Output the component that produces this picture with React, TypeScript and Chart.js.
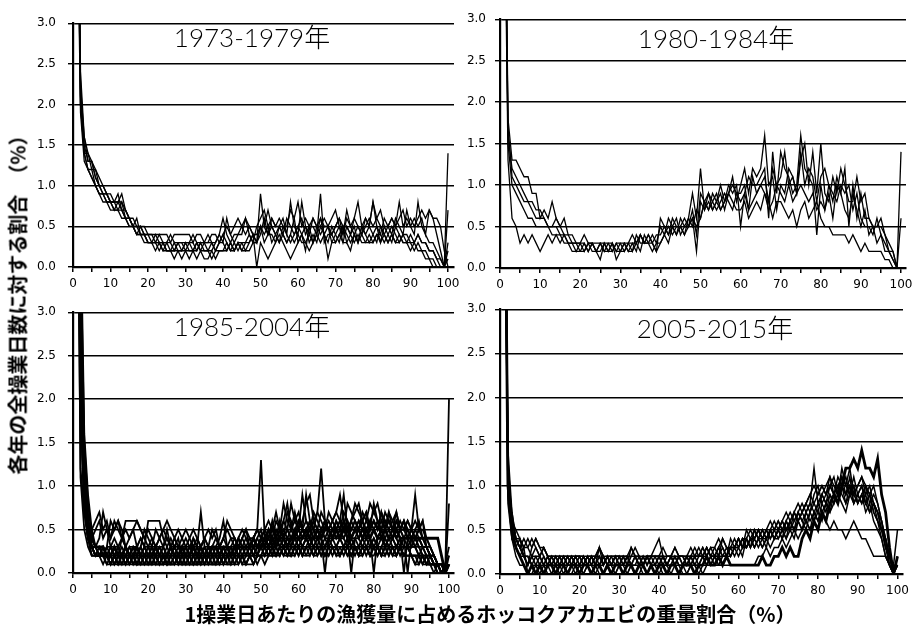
import React, { useEffect, useRef } from "react";
import { Chart, registerables } from "chart.js";

Chart.register(...registerables);

// Share of each year's fishing days falling in every 1 % bin of the
// northern-shrimp weight fraction of that day's catch (bins 0..100).
// Values are stored in units of 0.1 %.

// 1973-1979
const yr1973 = [300,60,22,16,13,13,11,10,9,9, 8,8,9,7,6,6,5,5,4,4, 4,4,3,4,3,3,3,2,3,3, 2,3,3,2,3,3,4,3,3,4, 6,4,3,4,4,5,4,5,4,3, 9,5,7,5,4,5,6,4,8,5, 4,8,5,4,6,5,4,5,5,6, 7,5,4,6,5,4,5,4,6,5, 8,5,4,6,5,4,6,5,4,7, 5,4,8,5,4,3,3,2,1,0, 14];
const yr1974 = [300,55,20,14,12,11,10,9,9,8, 8,7,8,8,7,6,5,4,5,4, 3,3,3,2,3,2,2,3,2,2, 3,2,2,2,3,2,2,3,2,3, 3,2,3,2,3,3,2,3,4,3, 5,3,4,4,3,5,4,3,4,6, 3,4,5,3,4,3,5,4,3,5, 4,3,5,4,3,4,3,5,4,3, 4,3,5,4,3,4,3,4,3,3, 3,2,3,2,2,1,1,0,0,0, 7];
const yr1975 = [300,65,24,16,14,13,12,10,10,9, 9,8,8,9,7,6,6,5,5,5, 4,4,4,4,4,4,3,4,4,4, 4,4,3,4,4,3,3,4,4,3, 4,5,4,5,6,5,6,5,4,4, 5,5,4,6,5,5,4,6,5,4, 5,6,4,5,5,4,6,5,5,4, 5,6,5,5,4,6,5,4,5,6, 5,6,5,4,5,6,5,8,5,6, 5,6,5,6,4,7,6,4,2,0, 2];
const yr1976 = [300,50,19,13,12,11,10,9,8,8, 7,7,7,6,6,5,5,4,4,3, 3,3,2,3,2,2,2,1,2,1, 2,1,2,1,2,1,1,2,1,2, 2,2,3,2,3,2,3,3,4,0, 3,2,1,2,3,4,3,2,1,2, 3,4,3,2,3,4,3,4,1,3, 3,4,3,3,2,4,3,4,3,3, 3,4,4,3,4,3,5,4,3,3, 2,3,2,2,1,1,0,0,0,0, 3];
const yr1977 = [300,58,23,14,14,12,12,11,10,9, 8,8,7,8,6,5,5,6,4,4, 3,3,3,3,2,3,2,2,3,3, 3,3,2,3,3,3,2,2,3,4, 3,6,4,3,4,4,6,4,3,5, 6,7,5,6,5,6,5,5,7,6, 8,5,6,5,6,5,5,6,5,4, 5,6,4,7,5,6,8,5,6,5, 8,6,7,5,5,6,5,6,7,5, 6,5,6,7,6,7,6,6,5,2, 0];
const yr1978 = [300,62,21,15,13,13,11,10,9,9, 8,8,8,7,7,6,5,5,5,4, 4,3,4,3,3,3,4,3,3,2, 3,3,4,3,2,3,3,3,2,3, 4,3,2,3,2,3,3,4,3,3, 5,4,5,3,4,3,4,3,4,3, 4,3,3,4,3,4,9,3,4,4, 3,4,5,3,4,3,4,3,3,4, 3,4,3,4,3,4,3,3,4,3, 4,3,4,3,3,2,2,1,0,0, 1];
const yr1979 = [300,57,20,14,12,12,10,9,9,8, 8,7,7,7,6,6,5,4,4,4, 3,3,3,3,3,2,2,2,2,2, 2,2,2,3,2,2,2,1,2,2, 2,3,2,2,3,2,2,2,3,3, 4,6,4,5,4,3,5,4,3,4, 5,4,2,5,3,5,6,4,5,3, 4,5,3,5,4,5,3,5,4,5, 4,5,3,5,4,5,4,3,4,4, 3,3,4,3,3,2,2,1,1,0, 0];

// 1980-1984
const yr1980 = [300,60,18,13,13,12,11,11,9,9, 6,7,6,8,6,5,6,4,4,3, 3,4,3,3,2,3,3,3,2,3, 3,2,3,4,3,4,3,3,4,3, 5,4,6,5,4,6,5,6,9,6, 12,7,8,7,8,9,7,9,11,8, 10,12,9,12,11,12,16,10,11,7, 10,9,12,11,9,13,15,10,14,9, 15,9,8,11,9,12,10,8,8,11, 8,9,6,5,5,6,4,3,2,0, 14];
const yr1981 = [300,58,16,12,11,10,9,8,8,7, 7,6,5,5,6,5,4,4,3,3, 3,3,2,3,3,3,2,3,3,2, 3,3,3,2,4,3,3,4,3,4, 4,5,4,6,5,5,6,5,7,4, 9,8,7,9,8,7,8,10,9,10, 5,9,11,10,10,11,12,6,14,9, 14,12,11,9,10,16,12,11,10,4, 10,7,10,9,8,10,9,10,7,9, 6,5,5,4,6,4,3,2,1,0, 6];
const yr1982 = [300,55,15,10,9,8,7,6,6,5, 5,5,5,4,4,4,3,3,3,2, 3,2,3,3,2,1,3,2,3,2, 2,3,2,3,2,4,3,3,2,3, 3,4,5,4,5,5,4,6,5,7, 6,8,9,8,7,8,9,8,7,9, 8,9,7,8,9,10,9,7,8,10, 9,8,10,8,9,10,9,8,9,7, 8,7,9,6,10,9,7,6,9,7, 5,7,4,5,3,4,2,2,1,0, 0];
const yr1983 = [300,52,13,6,5,3,4,3,4,3, 2,3,4,3,4,3,4,3,2,2, 2,3,2,3,2,3,2,2,3,1, 2,3,2,2,3,4,3,4,3,2, 3,4,3,5,4,5,4,5,6,5, 6,8,7,8,9,7,8,9,8,7, 7,8,6,7,8,7,9,8,6,8, 8,7,6,7,5,7,8,6,7,8, 6,5,5,4,4,4,4,3,4,3, 2,3,2,2,2,2,1,1,0,0, 0];
const yr1984 = [300,57,17,11,10,9,8,8,7,6, 6,6,5,5,5,4,4,3,3,3, 2,2,3,2,2,2,3,2,2,3, 2,2,3,3,3,2,4,3,3,2, 6,5,4,5,6,4,5,5,6,2, 8,7,9,7,8,10,8,9,10,9, 9,10,7,11,9,10,11,8,12,10, 11,14,10,11,9,14,10,12,11,8, 11,12,10,8,11,9,12,5,10,6, 9,6,6,5,5,5,4,2,2,0, 0];

// 1985-2004
const yr1985 = [300,75,32,11,5,3,2,2,2,2, 1,2,1,1,2,1,1,2,1,1, 1,2,1,1,1,2,1,1,2,1, 1,1,2,1,1,2,1,1,1,2, 1,2,1,2,2,1,2,2,1,2, 2,3,2,3,2,3,3,2,3,2, 3,2,3,3,2,3,3,2,3,3, 3,2,3,3,2,3,3,2,3,2, 3,3,2,3,2,3,2,3,2,2, 2,2,1,2,1,1,1,1,1,0, 0];
const yr1986 = [300,60,12,7,4,5,6,7,5,6, 4,5,6,4,6,6,6,6,5,4, 3,4,3,4,3,5,3,4,3,3, 4,3,3,2,3,4,3,3,4,3, 4,3,4,4,3,4,5,4,4,5, 13,4,5,4,6,5,6,8,5,6, 5,9,6,5,7,6,5,6,4,5, 6,5,7,6,5,6,5,6,7,5, 6,5,7,5,6,5,4,5,6,5, 4,5,4,3,3,2,2,1,0,0, 20];
const yr1987 = [300,65,20,8,5,3,3,4,7,5, 4,6,5,4,3,4,5,3,4,3, 6,6,6,6,4,3,4,3,4,2, 3,2,4,3,7,3,2,3,2,3, 3,2,3,2,4,3,2,3,3,4, 5,3,4,5,4,6,4,7,6,4, 6,5,9,6,5,7,12,6,5,6, 5,6,9,5,6,7,8,6,7,5, 8,6,5,6,5,6,7,5,6,4, 5,9,5,6,3,2,1,1,0,0, 8];
const yr1988 = [300,68,25,10,6,4,3,3,2,3, 6,5,6,5,3,2,3,2,3,5, 4,3,5,4,5,6,5,4,5,4, 3,4,5,4,3,4,5,4,5,3, 4,6,5,4,3,4,5,3,4,5, 4,5,6,5,7,5,8,6,5,7, 5,6,8,9,6,7,6,5,7,6, 7,6,5,8,7,6,5,7,6,8, 7,6,5,7,6,5,6,5,5,6, 5,4,5,4,3,2,2,1,0,1, 3];
const yr1989 = [300,62,18,9,5,4,5,6,4,5, 3,4,3,4,5,4,5,6,5,4, 5,4,3,4,5,4,3,4,3,4, 5,4,3,4,3,4,3,5,4,3, 4,5,4,3,4,5,4,3,4,5, 4,5,4,6,4,5,4,5,8,6, 7,5,6,5,6,5,7,6,5,6, 7,9,6,5,6,8,7,6,5,6, 7,8,6,5,7,6,5,6,5,6, 5,6,5,6,4,3,2,1,1,0, 2];
const yr1990 = [300,72,28,9,4,2,2,2,3,2, 2,1,2,2,1,2,2,1,2,2, 1,2,2,1,2,1,2,2,1,2, 2,1,2,2,1,2,2,3,2,2, 2,3,2,2,3,2,3,3,2,3, 4,3,3,4,3,4,3,4,5,4, 4,5,4,3,5,4,4,0,4,5, 4,5,4,5,3,4,5,4,5,4, 0,4,5,3,4,5,4,3,4,4, 3,4,3,2,2,1,1,0,0,0, 1];
const yr1991 = [300,66,22,8,4,3,2,3,2,3, 3,2,2,3,2,2,3,2,2,3, 2,3,2,2,3,2,2,3,2,2, 3,2,2,3,2,2,3,2,3,3, 2,3,3,2,3,3,3,2,3,3, 3,3,4,3,3,4,3,3,4,3, 4,3,4,4,3,4,4,3,4,4, 3,4,4,3,4,4,3,4,4,3, 4,3,4,4,3,4,3,4,3,3, 3,3,2,3,2,2,1,1,0,0, 0];
const yr1992 = [300,80,38,15,8,4,3,2,2,1, 1,1,2,1,1,1,2,1,1,1, 2,1,1,1,1,2,1,1,1,2, 1,1,1,2,1,1,1,2,1,1, 2,1,1,2,1,2,1,2,2,2, 2,2,3,2,2,3,2,3,2,3, 2,3,3,2,3,3,2,3,3,2, 3,3,2,3,3,2,3,3,2,3, 3,2,3,2,3,3,2,3,2,3, 2,2,2,1,2,1,1,1,0,0, 0];
const yr1993 = [300,64,19,7,4,3,3,2,3,2, 3,3,2,4,3,2,3,3,4,3, 2,3,3,2,3,4,3,2,3,2, 2,3,4,3,2,3,3,2,3,4, 6,3,3,4,3,3,4,3,4,3, 4,4,5,3,5,4,6,5,4,5, 6,5,4,6,5,4,5,6,5,4, 6,5,6,4,5,6,5,6,4,5, 6,5,7,6,5,4,6,5,4,5, 4,5,6,4,3,3,2,1,1,0, 0];
const yr1994 = [300,70,26,10,5,3,2,2,2,2, 2,2,1,2,2,2,1,2,2,2, 2,2,2,1,2,2,2,1,2,2, 1,2,2,2,1,2,2,2,1,2, 2,2,2,3,2,2,3,2,2,3, 3,3,3,2,4,3,3,4,3,3, 4,3,4,3,4,4,3,4,3,4, 4,4,3,4,0,4,4,3,4,4, 3,4,4,3,4,4,3,4,4,3, 4,3,3,2,2,2,1,1,0,0, 1];
const yr1995 = [300,74,31,12,6,3,2,2,1,2, 1,2,1,2,1,2,1,1,2,1, 1,1,2,1,2,1,1,2,1,1, 2,1,1,1,2,1,2,1,1,2, 1,2,2,1,2,2,1,2,2,1, 2,3,2,2,3,2,3,2,3,3, 3,2,3,3,2,3,3,2,3,3, 2,3,3,2,3,3,2,3,3,2, 3,3,2,3,3,2,3,3,2,2, 2,1,2,1,1,1,0,1,0,0, 0];
const yr1996 = [300,67,23,9,5,3,3,3,2,2, 2,3,2,2,2,3,2,2,3,2, 3,2,2,3,2,2,2,3,2,3, 2,2,3,2,2,3,2,2,2,3, 3,2,3,3,2,3,3,3,2,3, 3,4,3,4,4,3,4,4,3,5, 4,5,4,5,4,3,5,4,5,4, 5,4,6,5,4,5,4,5,4,6, 5,4,5,4,5,4,5,4,0,4, 4,3,4,3,3,2,2,1,1,0, 0];
const yr1997 = [300,76,29,11,5,3,2,2,2,2, 1,2,2,1,2,2,2,1,2,1, 2,2,1,2,2,1,2,2,2,1, 2,2,1,2,2,2,1,2,2,2, 1,2,2,2,2,2,2,3,2,2, 3,2,3,3,3,2,3,3,3,4, 3,3,4,3,3,4,3,3,4,3, 3,4,3,3,4,3,3,4,3,3, 4,3,3,4,3,3,3,3,3,3, 2,2,2,2,1,2,1,1,0,0, 0];
const yr1998 = [300,61,11,5,3,2,2,2,2,2, 3,2,3,2,2,3,3,2,3,2, 3,3,2,3,3,2,3,3,2,3, 3,2,3,3,2,3,2,3,3,2, 3,3,2,3,4,3,3,4,3,4, 3,4,4,5,4,4,5,4,4,5, 5,4,5,6,5,5,4,5,6,5, 5,6,5,4,6,5,6,5,6,5, 6,5,6,5,6,5,7,5,6,5, 5,4,5,5,4,3,2,1,0,1, 2];
const yr1999 = [300,73,27,10,5,3,2,2,2,1, 2,1,2,2,1,2,2,2,1,2, 2,1,2,2,2,1,2,2,1,2, 2,2,1,2,2,1,2,2,2,1, 2,2,1,2,2,2,2,2,3,2, 3,2,3,3,2,3,3,3,2,3, 3,2,3,4,3,2,3,3,4,3, 3,2,3,4,3,3,2,3,3,4, 3,3,2,3,4,3,2,3,3,3, 3,3,2,2,2,1,1,0,0,0, 0];
const yr2000 = [300,69,24,9,4,3,2,2,3,2, 2,2,3,2,2,1,2,3,2,2, 2,3,2,2,1,2,3,2,2,2, 2,3,2,1,2,2,3,2,2,2, 3,2,2,3,2,3,2,3,3,2, 4,3,3,3,4,3,4,3,4,4, 3,4,4,5,4,4,5,4,4,5, 4,5,5,4,5,5,4,5,5,4, 5,4,5,5,4,5,4,5,4,0, 4,4,3,3,2,2,1,1,0,0, 1];
const yr2001 = [300,71,26,8,4,2,2,2,2,2, 1,1,1,2,1,1,2,1,1,2, 1,1,1,1,2,1,1,1,2,1, 1,2,1,1,1,1,2,1,1,1, 2,1,1,1,2,1,1,2,1,2, 2,2,2,3,2,2,3,2,2,3, 2,3,2,2,3,3,2,3,2,3, 3,2,3,3,2,3,2,3,3,2, 3,2,3,3,2,3,3,2,3,3, 2,2,2,2,1,1,1,0,0,0, 0];
const yr2002 = [300,63,21,8,4,3,3,3,2,3, 2,3,3,2,3,2,3,3,2,3, 3,2,3,3,2,3,2,3,3,2, 3,3,2,3,3,2,3,3,3,2, 3,3,3,2,3,4,3,3,4,3, 4,3,5,4,3,5,4,5,4,4, 5,4,5,4,6,5,4,6,5,4, 5,4,5,6,4,5,6,5,4,5, 5,6,4,5,7,5,4,5,5,4, 5,4,4,3,3,2,1,1,0,0, 0];
const yr2003 = [300,85,42,16,9,5,3,2,2,2, 1,2,1,1,1,2,1,1,1,1, 1,1,2,1,1,1,1,2,1,1, 1,1,1,1,2,1,1,1,2,1, 1,1,2,1,1,2,1,1,1,2, 2,1,2,2,2,3,2,2,2,2, 3,2,2,3,2,2,3,2,2,3, 2,2,3,2,2,3,2,2,3,2, 2,3,2,2,3,2,2,3,2,2, 2,1,1,2,1,1,1,1,1,0, 0];
const yr2004 = [300,70,30,12,6,4,3,3,3,2, 2,3,2,2,3,2,2,3,2,2, 2,2,3,2,2,2,3,2,2,3, 2,2,3,2,3,2,2,3,3,2, 3,3,2,3,3,3,3,3,4,3, 3,4,3,4,3,4,4,3,4,4, 4,4,5,4,4,5,4,5,5,4, 5,4,5,5,4,5,5,4,5,4, 5,4,4,5,4,4,5,4,4,4, 4,4,4,4,4,4,4,4,2,0, 1];

// 2005-2015
const yr2005 = [300,58,12,6,4,3,2,2,1,1, 2,1,1,2,1,1,2,1,1,2, 1,1,2,1,1,1,2,1,1,1, 2,1,1,1,2,1,1,2,1,1, 1,2,1,1,2,1,1,1,2,1, 1,2,1,1,1,1,1,1,1,1, 1,1,1,1,1,2,2,3,2,3, 3,4,3,4,5,4,5,6,5,7, 6,8,7,9,8,10,9,8,10,9, 8,9,7,8,6,5,4,2,1,0, 1];
const yr2006 = [300,55,8,4,3,4,2,1,2,1, 1,2,1,2,2,1,2,2,1,2, 2,1,2,2,1,2,1,2,2,1, 1,2,2,1,2,1,2,1,2,2, 2,1,2,2,1,2,2,1,2,2, 2,2,3,2,2,3,2,2,3,3, 3,4,3,4,5,4,3,4,5,4, 5,4,5,6,5,6,5,7,6,7, 6,7,6,5,6,5,5,4,5,6, 5,4,4,3,2,2,2,2,1,0, 0];
const yr2007 = [300,62,11,7,4,3,4,3,2,3, 2,3,2,1,2,2,1,2,2,1, 2,2,1,2,2,3,2,1,2,2, 2,1,2,3,2,2,1,2,2,1, 2,2,1,2,3,2,2,1,2,3, 2,3,2,3,2,3,4,3,2,3, 4,3,4,5,4,5,4,5,4,5, 6,5,6,7,6,7,8,7,8,12, 8,9,10,11,9,10,11,9,10,9, 10,11,9,10,8,7,6,3,1,0, 0];
const yr2008 = [300,57,9,5,3,2,3,0,1,0, 1,0,1,0,1,1,0,1,1,0, 1,0,1,1,0,1,0,1,1,0, 1,1,0,1,0,0,1,0,1,1, 0,1,1,0,1,1,0,0,1,1, 0,1,1,2,1,1,2,2,3,2, 3,2,4,3,4,3,4,5,4,5, 4,5,4,6,5,7,6,5,7,8, 7,9,8,7,9,8,10,9,11,8, 9,8,10,9,8,7,5,4,2,0, 1];
const yr2009 = [300,64,13,6,4,4,3,4,3,4, 3,3,2,2,2,2,2,2,2,2, 2,2,2,2,2,3,2,2,2,2, 2,2,2,2,2,2,2,2,2,2, 2,2,2,2,2,2,2,2,2,2, 2,2,3,2,2,3,2,2,3,3, 4,3,4,3,4,5,4,5,6,5, 6,5,6,5,7,6,7,8,7,9, 10,8,9,10,9,11,10,9,10,8, 9,10,8,9,7,6,5,3,2,1, 5];
const yr2010 = [300,59,10,4,2,1,1,0,0,1, 0,1,0,0,1,0,1,0,0,1, 0,0,1,0,1,0,0,1,0,0, 1,0,0,1,0,1,0,0,1,0, 1,0,0,1,1,0,1,0,1,1, 1,0,1,1,2,1,1,2,2,3, 2,3,3,4,3,4,4,3,5,4, 5,6,5,6,7,6,7,8,9,8, 9,10,9,10,11,9,12,10,9,11, 9,10,8,9,7,6,4,2,1,0, 1];
const yr2011 = [300,61,12,5,4,3,2,1,2,2, 1,1,2,1,1,2,1,1,2,1, 1,2,1,1,2,1,2,1,1,2, 1,1,2,1,1,2,1,2,1,2, 1,2,1,2,1,2,1,2,2,1, 2,2,1,2,2,2,3,2,3,3, 3,4,3,4,4,5,4,4,5,4, 5,4,6,5,6,7,6,7,8,7, 8,9,8,10,9,8,10,11,9,10, 8,9,10,8,9,8,6,4,2,0, 0];
const yr2012 = [300,56,9,4,3,2,2,1,3,4, 3,2,1,1,1,1,1,1,1,1, 1,1,1,2,1,1,1,2,1,1, 1,1,2,1,1,1,1,2,1,1, 2,1,1,1,2,1,1,2,1,2, 1,2,2,1,2,2,2,3,2,3, 4,3,3,4,3,4,3,4,3,4, 4,5,4,5,4,6,5,6,5,6, 7,6,8,7,8,9,8,7,9,10, 8,9,8,7,8,6,5,3,2,0, 0];
const yr2013 = [300,63,11,6,5,4,3,3,4,3, 2,3,2,2,1,2,2,1,2,2, 2,1,2,1,2,2,1,2,1,2, 2,2,1,2,3,2,1,2,2,2, 2,3,2,2,1,2,2,2,1,2, 2,3,2,3,3,2,4,3,3,4, 3,4,4,3,5,4,5,4,5,4, 5,6,5,6,5,6,7,6,7,6, 8,7,8,9,8,9,10,8,9,8, 9,8,9,7,8,7,5,4,2,1, 1];
const yr2014 = [300,65,14,7,4,3,2,2,1,2, 2,1,2,1,2,1,1,2,1,2, 1,2,1,2,1,3,1,2,1,2, 1,2,1,3,2,1,2,1,2,3, 4,2,1,2,3,2,1,2,3,2, 3,2,3,2,3,4,3,2,4,3, 4,3,5,4,3,4,5,4,5,6, 5,6,7,6,7,8,7,8,9,10, 9,10,9,11,10,9,11,10,12,9, 10,11,10,9,10,8,6,4,1,0, 2];
const yr2015 = [300,60,10,5,3,2,1,0,1,0, 1,0,1,1,0,1,1,0,1,1, 0,1,1,0,1,1,0,1,0,1, 1,0,1,1,0,1,1,0,1,0, 1,1,0,1,1,0,1,1,1,0, 1,1,2,1,1,2,1,2,1,1, 1,1,1,1,1,1,2,1,1,2, 2,3,2,3,2,2,4,5,4,6, 5,7,6,8,9,8,10,12,12,13, 12,14,12,12,11,13,9,7,3,0, 2];

// Weight-fraction bins (%) on the horizontal axis and the axis ticks.
const BINS = Array.from({ length: 101 }, (_, i) => i);
const X_TICKS = [0, 5, 10, 15, 20, 25, 30, 35, 40, 45, 50, 55, 60, 65, 70, 75, 80, 85, 90, 95, 100];
const Y_TICKS = [0, 0.5, 1, 1.5, 2, 2.5, 3];

const PERIOD_A = [yr1973, yr1974, yr1975, yr1976, yr1977, yr1978, yr1979];
const PERIOD_B = [yr1980, yr1981, yr1982, yr1983, yr1984];
const PERIOD_C = [yr2004, yr1985, yr1986, yr1987, yr1988, yr1989, yr1990, yr1991, yr1992, yr1993, yr1994,
  yr1995, yr1996, yr1997, yr1998, yr1999, yr2000, yr2001, yr2002, yr2003];
const PERIOD_D = [yr2015, yr2005, yr2006, yr2007, yr2008, yr2009, yr2010, yr2011, yr2012, yr2013, yr2014];

const TICK_FONT = { family: "'DejaVu Sans', sans-serif", size: 12 };
const TITLE_FONT = "300 26px Lato, 'Noto Sans CJK JP', sans-serif";
const JP_FONT = "'Noto Sans CJK JP', sans-serif";

const Y_AXIS_W = 55;
const X_AXIS_H = 30;
const PAD_T = 12;
const PAD_R = 14;

type Box = { l: number; t: number; r: number; b: number };
type Panel = {
  title: string;
  lines: number[][];
  bold: number[] | null;
  thin: number;
  box: Box;
  x100: number;
  labelPad: number;
  titleAt: [number, number];
};

const PANELS: Panel[] = [
  { title: "1973-1979年", lines: PERIOD_A, bold: null, thin: 1.3, box: { l: 73, t: 16, r: 454, b: 267 }, x100: 448, labelPad: 12, titleAt: [252, 39] },
  { title: "1980-1984年", lines: PERIOD_B, bold: null, thin: 1.3, box: { l: 500, t: 15, r: 906, b: 268 }, x100: 901, labelPad: 9, titleAt: [716, 40] },
  { title: "1985-2004年", lines: PERIOD_C, bold: yr2004, thin: 1.8, box: { l: 73, t: 305, r: 454, b: 573 }, x100: 449, labelPad: 12, titleAt: [252, 328] },
  { title: "2005-2015年", lines: PERIOD_D, bold: yr2015, thin: 1.5, box: { l: 500, t: 305, r: 903, b: 574 }, x100: 897.5, labelPad: 9, titleAt: [715, 330] },
];

// Draws the period label inside the plot area.
const periodTitle = {
  id: "periodTitle",
  afterDatasetsDraw(chart: any, _args: any, opts: any) {
    const { ctx } = chart;
    ctx.save();
    ctx.font = TITLE_FONT;
    ctx.fillStyle = "#000";
    ctx.textAlign = "center";
    ctx.textBaseline = "middle";
    ctx.fillText(opts.text, opts.x, opts.y);
    ctx.restore();
  },
};

function PanelChart({ panel }: { panel: Panel }) {
  const ref = useRef<HTMLCanvasElement>(null);
  const { l, t, r, b } = panel.box;
  const left = l - Y_AXIS_W;
  const top = t - PAD_T;
  const width = r - l + Y_AXIS_W + PAD_R;
  const height = b - t + PAD_T + X_AXIS_H;

  useEffect(() => {
    const xMax = ((r - l) / (panel.x100 - l)) * 100;
    const datasets = panel.lines.map((line) => ({
      data: line.map((v, i) => ({ x: BINS[i], y: v / 10 })),
      borderColor: "#000",
      borderWidth: line === panel.bold ? 2.8 : panel.thin,
      pointRadius: 0,
      tension: 0,
      fill: false,
    }));
    const chart = new Chart(ref.current as HTMLCanvasElement, {
      type: "line",
      data: { datasets },
      options: {
        animation: false,
        responsive: false,
        events: [],
        layout: { padding: { top: PAD_T, right: PAD_R, left: 0, bottom: 0 } },
        plugins: {
          legend: { display: false },
          tooltip: { enabled: false },
          periodTitle: { text: panel.title, x: panel.titleAt[0] - left, y: panel.titleAt[1] - top },
        } as any,
        scales: {
          x: {
            type: "linear",
            min: 0,
            max: xMax,
            afterFit: (s: any) => { s.height = X_AXIS_H; },
            afterBuildTicks: (s: any) => { s.ticks = X_TICKS.map((v) => ({ value: v })); },
            grid: { drawOnChartArea: false, drawTicks: true, tickLength: 5, color: "#000", lineWidth: 1.5 },
            border: { display: true, color: "#000", width: 2.2 },
            ticks: {
              autoSkip: false,
              maxRotation: 0,
              padding: 5,
              color: "#000",
              font: TICK_FONT,
              callback: (v: any) => (Number(v) % 10 === 0 ? String(v) : ""),
            },
          },
          y: {
            type: "linear",
            min: 0,
            max: 3,
            afterFit: (s: any) => { s.width = Y_AXIS_W; },
            afterBuildTicks: (s: any) => { s.ticks = Y_TICKS.map((v) => ({ value: v })); },
            grid: { color: "#000", lineWidth: 1.4, drawTicks: true, tickLength: 5 },
            border: { display: true, color: "#000", width: 2.2 },
            ticks: {
              padding: panel.labelPad,
              color: "#000",
              font: TICK_FONT,
              callback: (v: any) => Number(v).toFixed(1),
            },
          },
        },
      } as any,
      plugins: [periodTitle],
    });
    return () => chart.destroy();
  }, [panel]);

  return (
    <canvas
      ref={ref}
      width={width}
      height={height}
      style={{ position: "absolute", left, top, width, height }}
    />
  );
}

export default function App() {
  return (
    <div style={{ position: "absolute", left: 0, top: 0, width: 917, height: 632, background: "#fff", overflow: "hidden" }}>
      {PANELS.map((p) => (
        <PanelChart key={p.title} panel={p} />
      ))}
      <div
        style={{
          position: "absolute",
          left: 17,
          top: 300,
          transform: "translate(-50%, -50%) rotate(-90deg)",
          whiteSpace: "nowrap",
          font: `bold 20px ${JP_FONT}`,
          color: "#000",
        }}
      >
        各年の全操業日数に対する割合　（%）
      </div>
      <div
        style={{
          position: "absolute",
          left: 490,
          top: 613,
          transform: "translate(-50%, -50%)",
          whiteSpace: "nowrap",
          font: `bold 20px ${JP_FONT}`,
          color: "#000",
        }}
      >
        1操業日あたりの漁獲量に占めるホッコクアカエビの重量割合（%）
      </div>
    </div>
  );
}
